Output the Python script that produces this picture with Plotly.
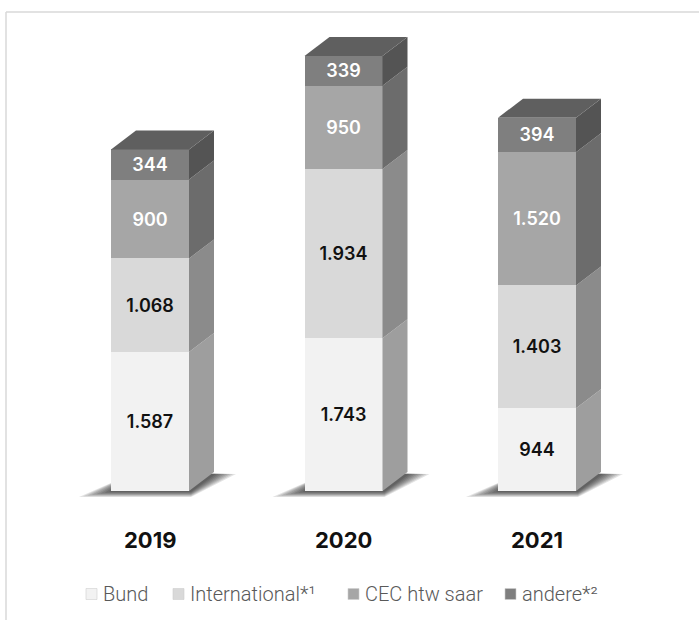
import plotly.graph_objects as go

# --- data -------------------------------------------------------------
years = ["2019", "2020", "2021"]
series_names = ["Bund", "International*¹", "CEC htw saar", "andere*²"]
bund = [1587, 1743, 944]
international = [1068, 1934, 1403]
cec = [900, 950, 1520]
andere = [344, 339, 394]

# --- styling ------------------------------------------------------------
front_colors = ["#f2f2f2", "#d9d9d9", "#a6a6a6", "#7f7f7f"]
side_colors = ["#9e9e9e", "#8b8b8b", "#6c6c6c", "#545454"]
top_color = "#5f5f5f"
text_colors = ["#111111", "#111111", "#ffffff", "#ffffff"]

W, H = 699, 620
X_PX_PER_UNIT = 193.5          # horizontal pixels per category step
Y_PX_PER_UNIT = 0.0876         # vertical pixels per count
X0_PX, BASE_PX = 150, 491      # pixel position of first category / baseline
BAR_W = 78 / X_PX_PER_UNIT
DX = 25 / X_PX_PER_UNIT        # extrusion depth (x)
DY = 19 / Y_PX_PER_UNIT        # extrusion depth (y)

x_range = [-X0_PX / X_PX_PER_UNIT, (W - X0_PX) / X_PX_PER_UNIT]
y_range = [-(H - BASE_PX) / Y_PX_PER_UNIT, BASE_PX / Y_PX_PER_UNIT]


def de(v):
    return f"{v:,}".replace(",", ".")


series = [bund, international, cec, andere]
xs = list(range(len(years)))

fig = go.Figure()
for name, vals, fc, tc in zip(series_names, series, front_colors, text_colors):
    fig.add_trace(go.Bar(
        x=xs, y=vals, name=name, width=BAR_W,
        marker=dict(color=fc, line=dict(width=0)),
        text=[de(v) for v in vals], textposition="inside",
        insidetextanchor="middle", textangle=0,
        textfont=dict(family="Inter", size=18, color=tc, weight=600),
        hoverinfo="skip", showlegend=False,
    ))


def poly(pts):
    return "M " + " L ".join(f"{x},{y}" for x, y in pts) + " Z"


shapes = []

# soft floor shadow under each box (stacked translucent layers)
for i in xs:
    x0, x1 = i - BAR_W / 2, i + BAR_W / 2
    n = 8
    for k in range(n):
        t = k / (n - 1)
        left = (30 * (1 - t) + 2) / X_PX_PER_UNIT
        right = (20 * (1 - t) + 2) / X_PX_PER_UNIT
        down = (5 * (1 - t) + 1) / Y_PX_PER_UNIT
        pts = [(x0 - left, -down), (x1 + 2 / X_PX_PER_UNIT, -down),
               (x1 + DX + right, DY * 0.9), (x0 + DX, DY)]
        shapes.append(dict(type="path", xref="x", yref="y", path=poly(pts),
                           fillcolor="rgba(0,0,0,0.11)", line=dict(width=0),
                           layer="below"))

# side faces and top face of each box
for i in xs:
    x0, x1 = i - BAR_W / 2, i + BAR_W / 2
    base = 0
    for vals, sc in zip(series, side_colors):
        top = base + vals[i]
        pts = [(x1, base), (x1 + DX, base + DY), (x1 + DX, top + DY), (x1, top)]
        shapes.append(dict(type="path", xref="x", yref="y", path=poly(pts),
                           fillcolor=sc, line=dict(width=0), layer="above"))
        base = top
    pts = [(x0, base), (x1, base), (x1 + DX, base + DY), (x0 + DX, base + DY)]
    shapes.append(dict(type="path", xref="x", yref="y", path=poly(pts),
                       fillcolor=top_color, line=dict(width=0), layer="above"))

# light frame along the top and left edge
fx, fy = 6 / W, 1 - 12 / H
shapes.append(dict(type="line", xref="paper", yref="paper", x0=fx, x1=1.01,
                   y0=fy, y1=fy, line=dict(color="#d9d9d9", width=1.5)))
shapes.append(dict(type="line", xref="paper", yref="paper", x0=fx, x1=fx,
                   y0=fy, y1=-0.01, line=dict(color="#d9d9d9", width=1.5)))

annotations = []
# category labels under the boxes
for i, yr in zip(xs, years):
    annotations.append(dict(x=i, y=0, xref="x", yref="y", text=yr,
                            showarrow=False, yshift=-49, yanchor="middle",
                            font=dict(family="Inter", size=22, color="#111111",
                                      weight=700)))

# legend row
legend_box_x = [86, 173, 348, 505]
leg_y = 594
for name, fc, bx in zip(series_names, front_colors, legend_box_x):
    shapes.append(dict(type="rect", xref="paper", yref="paper",
                       x0=bx / W, x1=(bx + 11) / W,
                       y0=1 - (leg_y + 5.5) / H, y1=1 - (leg_y - 5.5) / H,
                       fillcolor=fc, line=dict(color="#cfcfcf", width=0.6)))
    annotations.append(dict(x=(bx + 15) / W, y=1 - leg_y / H, xref="paper",
                            yref="paper", text=name, showarrow=False,
                            xanchor="left", yanchor="middle",
                            font=dict(family="Roboto", size=20, color="#595959",
                                      weight=300)))

fig.update_layout(
    width=W, height=H, margin=dict(l=0, r=0, t=0, b=0),
    barmode="stack", paper_bgcolor="white", plot_bgcolor="white",
    xaxis=dict(range=x_range, visible=False, fixedrange=True),
    yaxis=dict(range=y_range, visible=False, fixedrange=True),
    shapes=shapes, annotations=annotations, showlegend=False,
    uniformtext=dict(minsize=18, mode="show"),
)

fig.write_html("out.html")
